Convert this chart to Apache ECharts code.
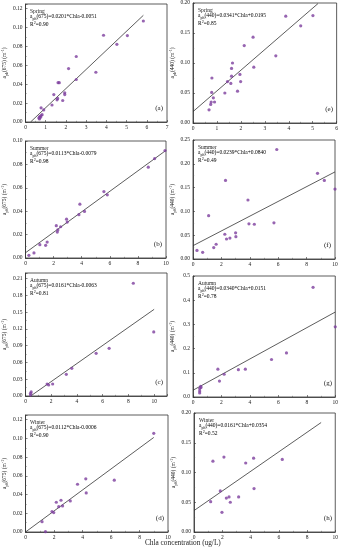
<!DOCTYPE html>
<html><head><meta charset="utf-8">
<script src="https://cdn.jsdelivr.net/npm/echarts@6/dist/echarts.min.js"></script>
<style>html,body{margin:0;padding:0;background:#fff}#c{width:341px;height:550px}</style>
</head><body><div id="c"></div>
<script>
// ---- data ----
const spring675X = [0.69,0.66,0.74,0.70,0.77,0.82,0.77,0.90,1.31,1.40,1.56,1.59,1.61,1.67,1.84,1.94,1.94,2.13,2.51,2.51,3.48,3.86,4.52,5.04,5.83];
const spring675Y = [0.0032,0.0043,0.0050,0.0057,0.0068,0.0078,0.0150,0.0128,0.018,0.029,0.0235,0.025,0.0417,0.0417,0.0228,0.031,0.029,0.0566,0.0694,0.045,0.0527,0.0919,0.0823,0.0915,0.107];
const spring675Line = [[0.25,0],[5.83,0.113]];

const spring440X = [0.67,0.74,0.76,0.85,0.90,0.78,0.79,1.33,1.44,1.58,1.61,1.61,1.65,1.86,1.96,1.99,2.14,2.51,2.54,3.46,3.875,4.50,5.01];
const spring440Y = [0.022,0.031,0.035,0.042,0.035,0.051,0.075,0.050,0.069,0.066,0.078,0.091,0.100,0.053,0.081,0.069,0.129,0.143,0.093,0.112,0.178,0.162,0.179];
const spring440Line = [[0,0.019],[5.22,0.199]];

const summer675X = [0.24,0.60,1.02,1.43,1.54,2.19,2.26,2.30,2.50,2.92,2.97,3.80,3.87,4.20,5.58,5.82,8.74,9.19,9.93];
const summer675Y = [0.0023,0.0043,0.0114,0.0108,0.0136,0.0276,0.0222,0.0240,0.0267,0.0332,0.0307,0.0370,0.0460,0.0398,0.0568,0.0540,0.0776,0.0850,0.0918];
const summer675Line = [[0,0.0045],[10,0.092]];

const summer440X = [0.28,0.68,1.10,1.46,1.63,2.24,2.36,2.29,2.60,3.00,3.02,3.87,3.94,4.32,5.70,5.90,8.77,9.25,10.0];
const summer440Y = [0.018,0.014,0.091,0.024,0.031,0.052,0.042,0.165,0.044,0.055,0.047,0.124,0.074,0.073,0.076,0.230,0.180,0.165,0.147];
const summer440Line = [[0,0.028],[10,0.183]];

const autumn675X = [0.39,0.39,0.44,1.68,1.80,2.11,3.17,3.60,5.49,6.50,8.38,9.97];
const autumn675Y = [0.0018,0.0048,0.0072,0.0215,0.0197,0.0215,0.0388,0.0495,0.0764,0.0853,0.2017,0.1146];
const autumn675Line = [[0.4,0],[10,0.155]];

const autumn440X = [0.47,0.47,0.54,0.56,0.47,1.75,1.86,2.19,3.19,3.68,5.52,6.57,8.44,10.0];
const autumn440Y = [0.025,0.035,0.044,0.039,0.017,0.115,0.066,0.094,0.113,0.115,0.155,0.182,0.453,0.290];
const autumn440Line = [[0,0.028],[10,0.351]];

const winter675X = [1.16,1.40,1.86,1.98,2.16,2.33,2.49,2.60,3.14,3.65,4.23,4.26,6.23,9.00];
const winter675Y = [0.0110,0.0004,0.0218,0.0207,0.0318,0.0271,0.0339,0.0279,0.0332,0.0510,0.0568,0.0418,0.0554,0.1054];
const winter675Line = [[0,0],[9.0,0.101]];

const winter440X = [1.18,1.34,1.86,1.98,2.12,2.29,2.48,2.57,3.16,3.66,4.22,4.25,6.25];
const winter440Y = [0.051,0.119,0.069,0.033,0.126,0.057,0.059,0.050,0.059,0.116,0.124,0.073,0.122];
const winter440Line = [[0,0.036],[9.0,0.184]];

const seasons = ['Spring','Summer','Autumn','Winter'];
const equations = ['=0.0201*Chla-0.0051','=0.0341*Chla+0.0195','=0.0113*Chla-0.0079','=0.0239*Chla+0.0840','=0.0161*Chla-0.0063','=0.0340*Chla+0.0151','=0.0112*Chla-0.0006','=0.0161*Chla+0.0354'];
const r2Values = ['0.90','0.85','0.98','0.49','0.81','0.78','0.90','0.52'];
const panelLetters = ['(a)','(e)','(b)','(f)','(c)','(g)','(d)','(h)'];
const xAxisTitle = 'Chla concentration (ug/L)';

// ---- layout ----
const FONT = '"Liberation Serif","DejaVu Serif",serif';
const panels = [
  {wl:'675', x:spring675X, y:spring675Y, line:spring675Line, rect:[25,4,167,122], xMax:7, xInt:1, yMax:0.125, yInt:0.02, dec:2},
  {wl:'440', x:spring440X, y:spring440Y, line:spring440Line, rect:[193,3,337,123], xMax:6, xInt:1, yMax:0.20, yInt:0.05, dec:2},
  {wl:'675', x:summer675X, y:summer675Y, line:summer675Line, rect:[25,141,166,258], xMax:10, xInt:2, yMax:0.10, yInt:0.02, dec:2},
  {wl:'440', x:summer440X, y:summer440Y, line:summer440Line, rect:[193,140,335,259], xMax:10, xInt:2, yMax:0.25, yInt:0.05, dec:2},
  {wl:'675', x:autumn675X, y:autumn675Y, line:autumn675Line, rect:[25,273,167,396], xMax:11, xInt:2, yMax:0.22, yInt:0.03, dec:2},
  {wl:'440', x:autumn440X, y:autumn440Y, line:autumn440Line, rect:[193,276,336,397], xMax:10, xInt:2, yMax:0.5, yInt:0.1, dec:1},
  {wl:'675', x:winter675X, y:winter675Y, line:winter675Line, rect:[25,415,168,532], xMax:10, xInt:2, yMax:0.125, yInt:0.02, dec:2},
  {wl:'440', x:winter440X, y:winter440Y, line:winter440Line, rect:[194,413,336,532], xMax:10, xInt:2, yMax:0.20, yInt:0.05, dec:2}
];

const richBase = {
  a:{fontSize:5.5, fontFamily:FONT, color:'#222', lineHeight:8, verticalAlign:'middle'},
  s:{fontSize:4, fontFamily:FONT, color:'#222', lineHeight:8, verticalAlign:'bottom'},
  p:{fontSize:4, fontFamily:FONT, color:'#222', lineHeight:8, verticalAlign:'top'}
};

const grid=[], xAxis=[], yAxis=[], series=[], graphic=[];
const axisCommon = {
  axisLine:{show:true, onZero:false, lineStyle:{color:'#333', width:0.8}},
  axisTick:{show:true, inside:true, length:2, lineStyle:{color:'#333', width:0.6}},
  minorTick:{show:true, splitNumber:2, length:1.2, lineStyle:{color:'#555', width:0.5}},
  splitLine:{show:false}
};
panels.forEach((p,i)=>{
  const [l,t,r,b] = p.rect;
  grid.push({left:l, top:t, width:r-l, height:b-t, show:true, borderColor:'#333', borderWidth:0.8, containLabel:false});
  xAxis.push(Object.assign({type:'value', gridIndex:i, min:0, max:p.xMax, interval:p.xInt,
    axisLabel:{fontSize:5.5, fontFamily:FONT, color:'#222', margin:3, showMaxLabel:(p.xMax%p.xInt===0)}}, axisCommon));
  const yNeedHide = Math.abs(Math.round(p.yMax/p.yInt)*p.yInt - p.yMax) > 1e-9;
  yAxis.push(Object.assign({type:'value', gridIndex:i, min:0, max:p.yMax, interval:p.yInt,
    name:'{a|a}{s|ph}{a|(' + p.wl + ') (m}{p|-1}{a|)}', nameLocation:'middle', nameGap:16, nameRotate:90,
    nameTextStyle:{rich:richBase},
    axisLabel:{fontSize:5.5, fontFamily:FONT, color:'#222', margin:3, showMaxLabel:!yNeedHide,
      formatter:v=>v.toFixed(p.dec)}}, axisCommon));
  series.push({type:'scatter', xAxisIndex:i, yAxisIndex:i, symbol:'circle', symbolSize:3.2,
    itemStyle:{color:'#7d3f9e'}, data:p.x.map((v,k)=>[v,p.y[k]]), z:3});
  series.push({type:'line', xAxisIndex:i, yAxisIndex:i, symbol:'none', silent:true,
    lineStyle:{color:'#333', width:0.8}, data:p.line, z:2});
  graphic.push({type:'text', left:l+5, top:t+5, style:{text:seasons[Math.floor(i/2)], font:'5.5px '+FONT, fill:'#222'}});
  graphic.push({type:'text', left:l+5, top:t+10, style:{text:'{a|a}{s|ph}{a|(' + p.wl + ')' + equations[i] + '}', rich:richBase}});
  graphic.push({type:'text', left:l+5, top:t+17, style:{text:'{a|R}{p|2}{a|=' + r2Values[i] + '}', rich:richBase}});
  graphic.push({type:'text', right:341-r+4, top:b-17, style:{text:panelLetters[i], font:'7px '+FONT, fill:'#222'}});
});
graphic.push({type:'text', left:145, top:540, style:{text:xAxisTitle, font:'7.3px '+FONT, fill:'#222'}});

const chart = echarts.init(document.getElementById('c'), null, {renderer:'canvas'});
chart.setOption({animation:false, backgroundColor:'#fff', grid, xAxis, yAxis, series, graphic});
</script>
</body></html>
